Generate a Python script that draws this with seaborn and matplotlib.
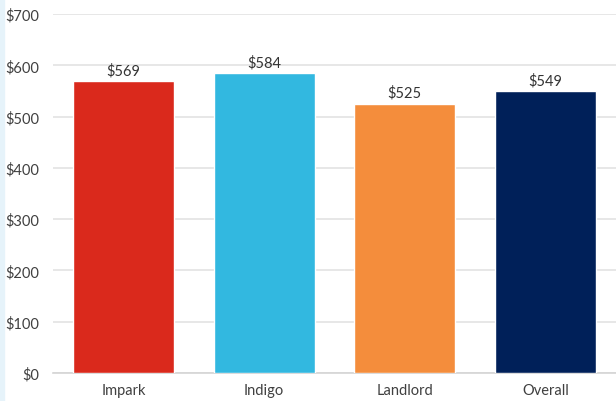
import matplotlib.pyplot as plt
import matplotlib.patches as mpatches
import seaborn as sns
import pandas as pd

categories = ["Impark", "Indigo", "Landlord", "Overall"]
values = [569, 584, 525, 549]
colors = ["#DA291C", "#32B8E0", "#F48D3C", "#002059"]


def main():
    df = pd.DataFrame({"Operator": categories, "Cost": values})

    sns.set_style("white")
    plt.rcParams["font.family"] = ["Lato", "DejaVu Sans"]

    fig = plt.figure(figsize=(6.16, 4.02), dpi=100)
    ax = fig.add_axes([53 / 616, 28 / 402, 563 / 616, 359 / 402])

    sns.barplot(data=df, x="Operator", y="Cost", hue="Operator", palette=colors,
                legend=False, width=0.716, saturation=1, ax=ax, zorder=3)

    ax.set_ylim(0, 700)
    ax.set_xlim(-0.5, 3.5)
    ax.set_yticks(range(0, 701, 100))
    ax.set_yticklabels([f"${v}" for v in range(0, 701, 100)])
    ax.yaxis.grid(True, color="#e3e3e3", linewidth=1.2, zorder=0)
    ax.set_axisbelow(True)
    ax.set_xlabel("")
    ax.set_ylabel("")
    for side in ["top", "right", "left"]:
        ax.spines[side].set_visible(False)
    ax.spines["bottom"].set_color("#d4d4d4")
    ax.spines["bottom"].set_linewidth(1.2)
    ax.tick_params(axis="y", length=0, pad=10, labelsize=10.5, labelcolor="#404040")
    ax.tick_params(axis="x", length=0, pad=7, labelsize=10.5, labelcolor="#404040")

    for i, v in enumerate(values):
        ax.annotate(f"${v}", (i, v), xytext=(0, 3), textcoords="offset points",
                    ha="center", va="bottom", fontsize=10.5, color="#333333")

    # light blue strip on the left edge
    fig.patches.append(mpatches.Rectangle((0, 0), 4 / 616, 1, transform=fig.transFigure,
                                          color="#E6F3FA", zorder=0))

    plt.savefig("out.png", dpi=100)


main()
